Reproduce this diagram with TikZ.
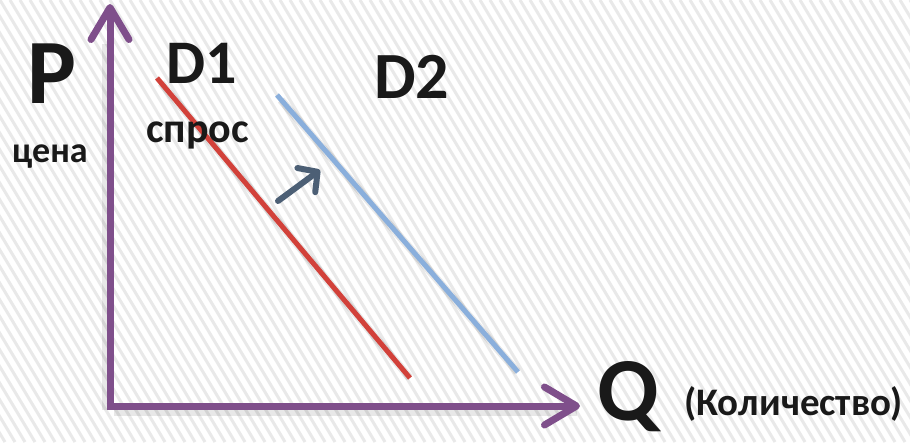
\documentclass[tikz,border=0pt]{standalone}
\usepackage{fontspec}
\setmainfont{Carlito}
\usepackage{xcolor}
\usetikzlibrary{positioning, arrows.meta}
\definecolor{axisviolet}{HTML}{7F4F8B}
\definecolor{demandred}{HTML}{D2413A}
\definecolor{demandblue}{HTML}{8AAFDC}
\definecolor{shiftgray}{HTML}{4C5F75}
\definecolor{stripegray}{HTML}{E9E9E9}
\newcommand{\BoldAt}[1]{\fontsize{#1}{#1}\selectfont\bfseries}

\begin{document}
\begin{tikzpicture}[
  x=1pt, y=-1pt,
  stripe/.style={stripegray, line width=3pt},
  axis/.style={axisviolet, line width=7pt,
               -{Straight Barb[length=32pt, width=38pt, round]}},
  dropshade/.style={black, opacity=0.09, line width=8pt, shorten >=7pt},
  curve/.style={line width=5pt},
  shiftarrow/.style={shiftgray, line width=6pt, line cap=round,
                -{Straight Barb[length=14pt, width=30pt, round]}},
  lbl/.style={anchor=base west, inner sep=0pt, text=black!90}
]
% background
\fill[white] (0,0) rectangle (910,442);
\begin{scope}
\clip (0,0) rectangle (910,442);
\foreach \i in {-30,...,92}
  \draw[stripe] (\i*10,0) -- ++(265,442);
\end{scope}
\useasboundingbox (0,0) rectangle (910,442);

\coordinate (origin) at (110,406);
\coordinate (ptop) at (110,4);
\coordinate (qend) at (580,406);
\coordinate (d1a) at (157,78);
\coordinate (d1b) at (410,378);
\coordinate (d2a) at (277,95);
\coordinate (d2b) at (518,372);
\coordinate (sa) at (278,201);
\coordinate (sb) at (320,170);

% shadows
\draw[dropshade] ([shift={(4,5)}]d1a) -- ([shift={(4,5)}]d1b);
\draw[dropshade] ([shift={(4,5)}]d2a) -- ([shift={(4,5)}]d2b);
\draw[dropshade] ([shift={(4,6)}]origin) -- ([shift={(4,6)}]qend);
\draw[dropshade, shorten >=0pt] ([shift={(-4,4)}]origin) -- ([shift={(-4,40)}]ptop);

% axes
\draw[axis] (origin) -- (ptop);
\draw[axis] ([xshift=-3.5pt]origin) -- (qend);

% demand curves
\draw[curve, demandred] (d1a) -- (d1b);
\draw[curve, demandblue] (d2a) -- (d2b);
\draw[shiftarrow] (sa) -- (sb);

% labels
\node[lbl, font=\BoldAt{92}] (p) at (27,103) {P};
\node[lbl, font=\BoldAt{36}] (price) at (12,162) {цена};
\node[lbl, font=\BoldAt{62}] (d1) at (166,83) {D1};
\node[lbl, font=\BoldAt{42}] (spros) at (146,142) {спрос};
\node[lbl, font=\BoldAt{66}] (d2) at (374,98) {D2};
\node[lbl, font=\BoldAt{90}] (q) at (597,420) {Q};
\node[lbl, font=\BoldAt{39}] (qty) at (684,415) {(Количество)};
\end{tikzpicture}
\end{document}
